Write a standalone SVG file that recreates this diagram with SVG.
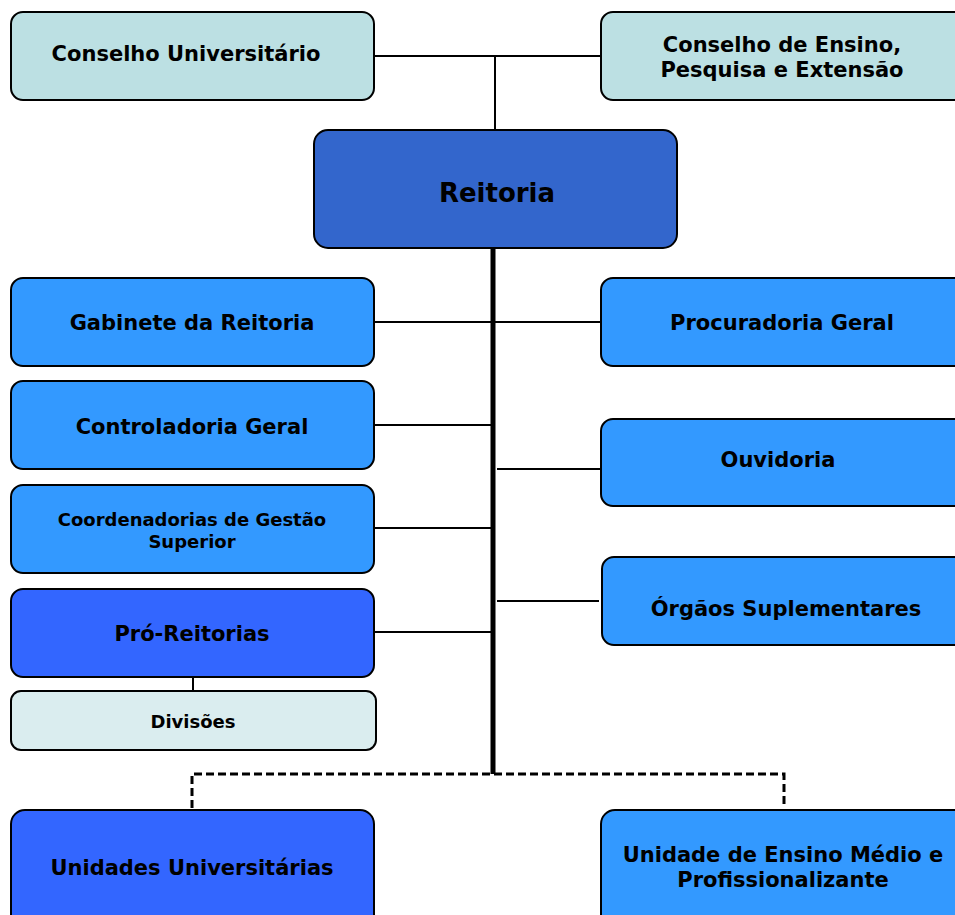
<svg xmlns="http://www.w3.org/2000/svg" width="955" height="915" viewBox="0 0 955 915">
<style>
.box{stroke:#000;stroke-width:2}
.t{font-family:"DejaVu Sans","Verdana",sans-serif;font-weight:bold;fill:#000;text-anchor:middle}
.c{stroke:#000;stroke-width:2;fill:none}
.d{stroke:#000;stroke-width:3;fill:none;stroke-dasharray:8 4}
</style>
<rect width="955" height="915" fill="#fff"/>
<g id="connectors">
<path class="c" d="M374 56H601M495 56V130"/>
<path d="M493 248V774" stroke="#000" stroke-width="5" fill="none"/>
<path class="c" d="M374 322H601"/>
<path class="c" d="M374 425H493"/>
<path class="c" d="M497 469H601"/>
<path class="c" d="M374 528H493"/>
<path class="c" d="M497 601H599"/>
<path class="c" d="M374 632H493"/>
<path class="c" d="M193 677V691"/>
<path class="d" d="M192 808V774H784V808"/>
</g>
<g id="conselho-universitario"><rect class="box" x="11" y="12" width="363" height="88" rx="12" fill="#bce0e3"/><text class="t" x="186" y="61" font-size="21">Conselho Universitário</text></g>
<g id="conselho-ensino"><rect class="box" x="601" y="12" width="370" height="88" rx="12" fill="#bce0e3"/><text class="t" x="782" y="52" font-size="21">Conselho de Ensino,</text><text class="t" x="782" y="77" font-size="21">Pesquisa e Extensão</text></g>
<g id="reitoria"><rect class="box" x="314" y="130" width="363" height="118" rx="14" fill="#3366cc"/><text class="t" x="497" y="202" font-size="26">Reitoria</text></g>
<g id="gabinete"><rect class="box" x="11" y="278" width="363" height="88" rx="12" fill="#3399ff"/><text class="t" x="192" y="330" font-size="21">Gabinete da Reitoria</text></g>
<g id="procuradoria"><rect class="box" x="601" y="278" width="370" height="88" rx="12" fill="#3399ff"/><text class="t" x="782" y="330" font-size="21">Procuradoria Geral</text></g>
<g id="controladoria"><rect class="box" x="11" y="381" width="363" height="88" rx="12" fill="#3399ff"/><text class="t" x="192" y="434" font-size="21">Controladoria Geral</text></g>
<g id="ouvidoria"><rect class="box" x="601" y="419" width="370" height="87" rx="12" fill="#3399ff"/><text class="t" x="778" y="467" font-size="21">Ouvidoria</text></g>
<g id="coordenadorias"><rect class="box" x="11" y="485" width="363" height="88" rx="12" fill="#3399ff"/><text class="t" x="192" y="526" font-size="18">Coordenadorias de Gestão</text><text class="t" x="192" y="548" font-size="18">Superior</text></g>
<g id="orgaos"><rect class="box" x="602" y="557" width="370" height="88" rx="12" fill="#3399ff"/><text class="t" x="786" y="616" font-size="21">Órgãos Suplementares</text></g>
<g id="pro-reitorias"><rect class="box" x="11" y="589" width="363" height="88" rx="12" fill="#3366ff"/><text class="t" x="192" y="641" font-size="21">Pró-Reitorias</text></g>
<g id="divisoes"><rect class="box" x="11" y="691" width="365" height="59" rx="10" fill="#daedef"/><text class="t" x="193" y="728" font-size="18">Divisões</text></g>
<g id="unidades-universitarias"><rect class="box" x="11" y="810" width="363" height="120" rx="14" fill="#3366ff"/><text class="t" x="192" y="875" font-size="21">Unidades Universitárias</text></g>
<g id="unidade-ensino-medio"><rect class="box" x="601" y="810" width="370" height="120" rx="14" fill="#3399ff"/><text class="t" x="783" y="862" font-size="21">Unidade de Ensino Médio e</text><text class="t" x="783" y="887" font-size="21">Profissionalizante</text></g>
</svg>
